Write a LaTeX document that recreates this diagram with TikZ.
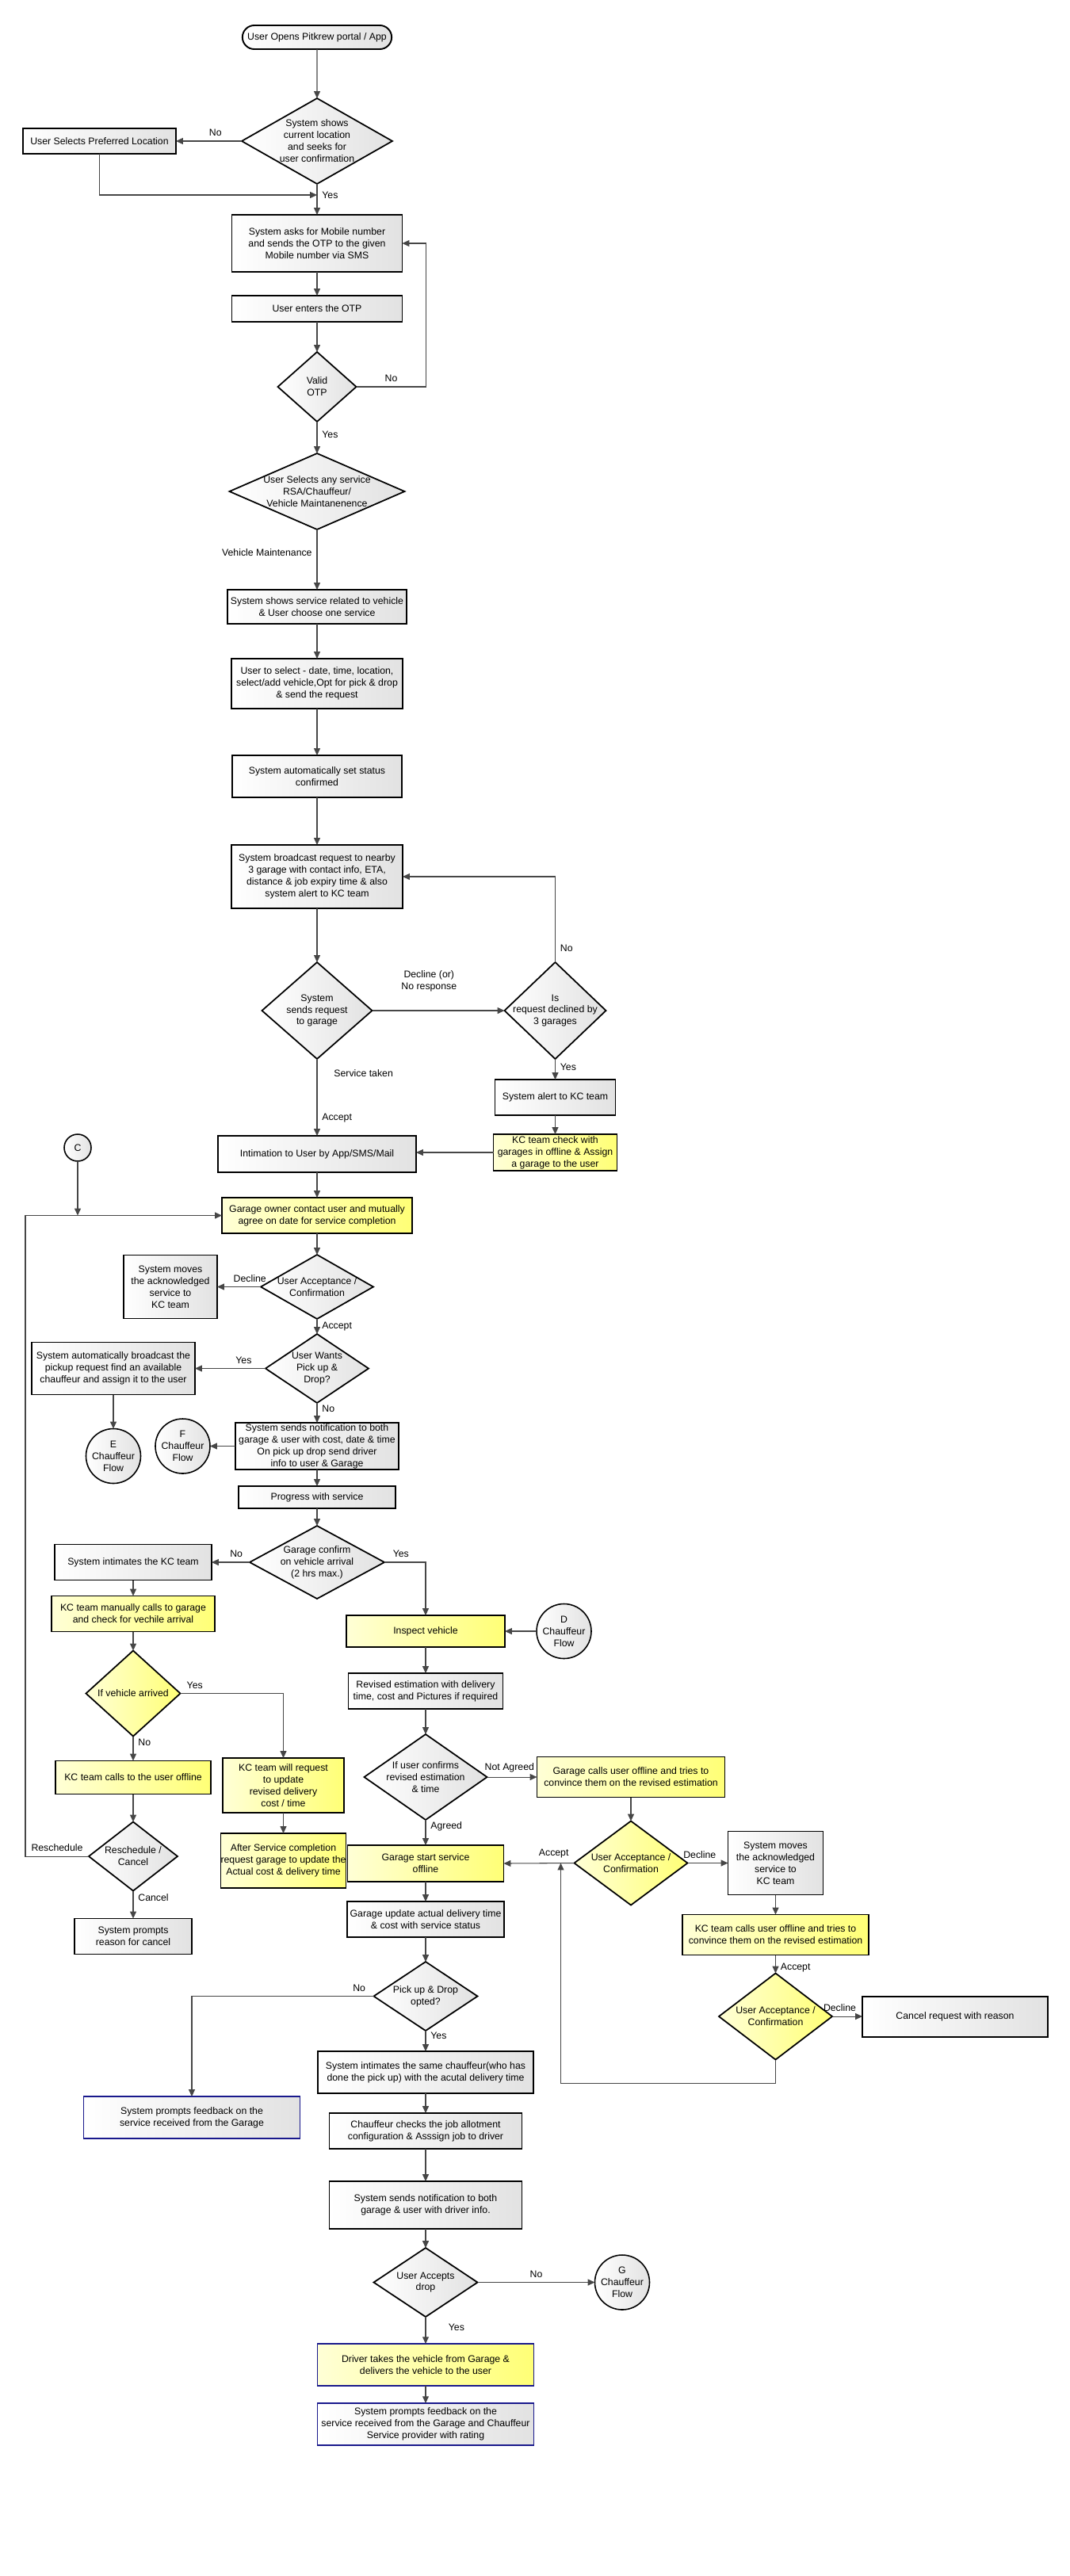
\documentclass[tikz,border=0pt]{standalone}
\usepackage{fontspec}
\setmainfont{Liberation Sans}
\usepackage{tikz}
\usetikzlibrary{shapes,arrows.meta,positioning}

\definecolor{boxgrey}{RGB}{226,226,226}
\definecolor{ylight}{RGB}{255,255,214}
\definecolor{ydark}{RGB}{255,255,118}
\definecolor{linegrey}{RGB}{70,70,70}
\definecolor{navy}{RGB}{25,25,140}

\begin{document}
\begin{tikzpicture}[
    every node/.style={font=\fontsize{7}{8.5}\selectfont},
    box/.style={rectangle, draw, line width=1.1pt, left color=white, right color=boxgrey, align=center, inner xsep=2pt, inner ysep=1pt, outer sep=0pt},
    ybox/.style={box, left color=ylight, right color=ydark},
    bluebox/.style={line width=0.9pt, draw=navy},
    terminal/.style={rounded rectangle, draw, line width=1.1pt, left color=white, right color=boxgrey, minimum width=4cm, minimum height=0.6cm, outer sep=0pt},
    decision/.style={diamond, draw, line width=1pt, left color=white, right color=boxgrey, inner sep=0pt, outer sep=0pt},
    ydecision/.style={decision, left color=ylight, right color=ydark},
    dtext/.style={align=center, inner sep=0pt},
    flow/.style={circle, draw, line width=0.9pt, left color=white, right color=boxgrey, align=center, inner sep=0pt, outer sep=0pt, minimum size=1.38cm},
    arrow/.style={-{Triangle[length=5pt,width=4.5pt]}, line width=0.6pt, draw=linegrey}]

    \useasboundingbox (0,0) rectangle (27,-65);

    \node[terminal] (start) at (8,-0.94) {User Opens Pitkrew portal / App};
    \node[decision, minimum width=3.8cm, minimum height=2.16cm, below=1.24cm of start, label={[dtext]center:{System shows\\current location\\and seeks for\\user confirmation}}] (locq) {};
    \node[box, minimum width=3.86cm, minimum height=0.64cm, left=1.66cm of locq] (prefloc) {User Selects Preferred Location};
    \coordinate[below=0.28cm of locq] (join);
    \node[box, minimum width=4.3cm, minimum height=1.44cm, below=0.78cm of locq] (otp) {System asks for Mobile number\\and sends the OTP to the given\\Mobile number via SMS};
    \node[box, minimum width=4.3cm, minimum height=0.66cm, below=0.6cm of otp] (enterotp) {User enters the OTP};
    \node[decision, minimum width=1.98cm, minimum height=1.76cm, below=0.76cm of enterotp, label={[dtext]center:{Valid\\OTP}}] (validotp) {};
    \node[decision, minimum width=4.42cm, minimum height=1.92cm, below=0.8cm of validotp, label={[dtext]center:{User Selects any service\\RSA/Chauffeur/\\Vehicle Maintanenence}}] (service) {};
    \node[box, minimum width=4.48cm, minimum height=0.86cm, below=1.52cm of service] (showsvc) {System shows service related to vehicle\\\& User choose one service};
    \node[box, minimum width=4.32cm, minimum height=1.26cm, below=0.88cm of showsvc] (select) {User to select - date, time, location,\\select/add vehicle,Opt for pick \& drop\\\& send the request};
    \node[box, minimum width=4.28cm, minimum height=1.06cm, below=1.18cm of select] (status) {System automatically set status\\confirmed};
    \node[box, minimum width=4.32cm, minimum height=1.6cm, below=1.2cm of status] (broadcast) {System broadcast request to nearby\\3 garage with contact info, ETA,\\distance \& job expiry time \& also\\system alert to KC team};
    \node[decision, minimum width=2.78cm, minimum height=2.44cm, below=1.36cm of broadcast, label={[dtext]center:{System\\sends request\\to garage}}] (sendreq) {};
    \node[decision, minimum width=2.56cm, minimum height=2.44cm, right=3.34cm of sendreq, label={[dtext]center:{Is\\request declined by\\3 garages}}] (declined) {};
    \node[box, minimum width=3.04cm, minimum height=0.9cm, below=0.52cm of declined] (alertkc) {System alert to KC team};
    \node[ybox, minimum width=3.12cm, minimum height=0.92cm, below=0.48cm of alertkc] (kccheck) {KC team check with\\garages in offline \& Assign\\a garage to the user};

    \node[box, minimum width=5cm, minimum height=0.92cm, below=1.94cm of sendreq] (intimate) {Intimation to User by App/SMS/Mail};
    \node[flow, minimum size=0.68cm, left=3.2cm of intimate, yshift=0.16cm] (cflow) {C};
    \node[ybox, minimum width=4.8cm, minimum height=0.9cm, below=0.64cm of intimate] (garagecontact) {Garage owner contact user and mutually\\agree on date for service completion};
    \node[decision, minimum width=2.84cm, minimum height=1.62cm, below=0.54cm of garagecontact, label={[dtext]center:{User Acceptance /\\Confirmation}}] (accept1) {};
    \node[box, minimum width=2.36cm, minimum height=1.6cm, left=1.1cm of accept1] (movekc1) {System moves\\the acknowledged\\service to\\KC team};
    \node[decision, minimum width=2.6cm, minimum height=1.74cm, below=0.38cm of accept1, label={[dtext]center:{User Wants\\Pick up \&\\Drop?}}] (pickdrop) {};
    \node[box, minimum width=4.12cm, minimum height=1.32cm, left=1.78cm of pickdrop] (autopick) {System automatically broadcast the\\pickup request find an available\\chauffeur and assign it to the user};
    \node[flow, below=0.86cm of autopick] (eflow) {E\\Chauffeur\\Flow};
    \node[box, minimum width=4.12cm, minimum height=1.18cm, inner ysep=0pt, below=0.5cm of pickdrop] (notifycost) {System sends notification to both\\garage \& user with cost, date \& time\\On pick up drop send driver\\info to user \& Garage};
    \node[flow, left=0.64cm of notifycost] (fflow) {F\\Chauffeur\\Flow};
    \node[box, minimum width=3.96cm, minimum height=0.56cm, below=0.42cm of notifycost] (progress) {Progress with service};
    \node[decision, minimum width=3.4cm, minimum height=1.84cm, below=0.44cm of progress, label={[dtext]center:{Garage confirm\\on vehicle arrival\\(2 hrs max.)}}] (arrival) {};

    \node[box, minimum width=3.96cm, minimum height=0.9cm, left=0.96cm of arrival] (intimatekc) {System intimates the KC team};
    \node[ybox, minimum width=4.12cm, minimum height=0.9cm, below=0.4cm of intimatekc] (kcmanual) {KC team manually calls to garage\\and check for vechile arrival};
    \node[ydecision, minimum width=2.38cm, minimum height=2.16cm, below=0.48cm of kcmanual, label={[dtext]center:If vehicle arrived}] (arrived) {};
    \node[ybox, minimum width=3.92cm, minimum height=0.84cm, below=0.62cm of arrived] (kccalluser) {KC team calls to the user offline};
    \node[decision, minimum width=2.24cm, minimum height=1.74cm, below=0.7cm of kccalluser, label={[dtext]center:{Reschedule /\\Cancel}}] (reschedule) {};
    \node[box, minimum width=2.96cm, minimum height=0.9cm, below=0.7cm of reschedule] (reason) {System prompts\\reason for cancel};
    \node[ybox, minimum width=3.06cm, minimum height=1.38cm, right=0.3cm of kccalluser, yshift=-0.2cm] (kcrequest) {KC team will request\\to update\\revised  delivery\\cost / time};
    \node[ybox, minimum width=3.06cm, minimum height=1.38cm, inner xsep=0pt, below=0.52cm of kcrequest] (aftersvc) {After Service completion\\request garage to update the\\Actual cost  \& delivery time};

    \node[ybox, minimum width=4cm, minimum height=0.8cm, below=0.42cm of arrival, xshift=2.74cm] (inspect) {Inspect vehicle};
    \node[flow, right=0.8cm of inspect] (dflow) {D\\Chauffeur\\Flow};
    \node[box, minimum width=3.9cm, minimum height=0.9cm, below=0.66cm of inspect] (revised) {Revised estimation with delivery\\time, cost and Pictures if required};
    \node[decision, minimum width=3.1cm, minimum height=2.16cm, below=0.64cm of revised, label={[dtext]center:{If user confirms\\revised estimation\\\& time}}] (confirm) {};
    \node[ybox, minimum width=4.74cm, minimum height=1.02cm, right=1.26cm of confirm] (garagecall) {Garage calls user offline and tries to\\convince them on the revised estimation};
    \node[ydecision, minimum width=2.86cm, minimum height=2.12cm, below=0.6cm of garagecall, label={[dtext]center:{User Acceptance /\\Confirmation}}] (accept2) {};
    \node[box, minimum width=2.4cm, minimum height=1.6cm, right=1.02cm of accept2] (movekc2) {System moves\\the acknowledged\\service to\\KC team};
    \node[ybox, minimum width=4.7cm, minimum height=1.02cm, below=0.5cm of movekc2] (kccall2) {KC team calls user offline and tries to\\convince them on the revised estimation};
    \node[ydecision, minimum width=2.86cm, minimum height=2.18cm, below=0.46cm of kccall2, label={[dtext]center:{User Acceptance /\\Confirmation}}] (accept3) {};
    \node[box, minimum width=4.68cm, minimum height=1.02cm, right=0.76cm of accept3] (cancel) {Cancel request with reason};
    \coordinate[left=0.34cm of accept2] (backin);

    \node[ybox, minimum width=3.94cm, minimum height=0.92cm, below=0.64cm of confirm] (startsvc) {Garage start service\\offline};
    \node[box, minimum width=3.94cm, minimum height=0.9cm, below=0.5cm of startsvc] (updatesvc) {Garage update actual delivery time\\\& cost with service status};
    \node[decision, minimum width=2.62cm, minimum height=1.74cm, below=0.62cm of updatesvc, label={[dtext]center:{Pick up \& Drop\\opted?}}] (pickopted) {};
    \node[box, minimum width=5.44cm, minimum height=1.06cm, below=0.52cm of pickopted] (samedriver) {System intimates the same chauffeur(who has\\done the pick up) with the acutal delivery time};
    \node[box, minimum width=4.86cm, minimum height=0.9cm, below=0.5cm of samedriver] (allot) {Chauffeur checks the job allotment\\configuration \& Asssign job to driver};
    \node[box, bluebox, minimum width=5.46cm, minimum height=1.06cm, left=0.74cm of allot, yshift=0.34cm] (feedback1) {System prompts feedback on the\\service received from the Garage};
    \node[box, minimum width=4.86cm, minimum height=1.2cm, below=0.82cm of allot] (notifydriver) {System sends notification to both\\garage \& user with  driver  info.};
    \node[decision, minimum width=2.62cm, minimum height=1.74cm, below=0.48cm of notifydriver, label={[dtext]center:{User Accepts\\drop}}] (acceptdrop) {};
    \node[flow, right=2.96cm of acceptdrop] (gflow) {G\\Chauffeur\\Flow};
    \node[ybox, bluebox, minimum width=5.46cm, minimum height=1.06cm, below=0.68cm of acceptdrop] (deliver) {Driver takes the vehicle from Garage \&\\delivers the vehicle to the user};
    \node[box, bluebox, minimum width=5.46cm, minimum height=1.06cm, below=0.44cm of deliver] (feedback2) {System prompts feedback on the\\service received from the Garage and Chauffeur\\Service provider with rating};

    \draw[arrow] (start) -- (locq);
    \draw[arrow] (locq.west) -- node[pos=0.4, above] {No} (prefloc.east);
    \draw[arrow] (prefloc.south) |- (join);
    \draw[arrow] (locq.south) -- node[pos=0.38, right] {Yes} (otp);
    \draw[arrow] (otp) -- (enterotp);
    \draw[arrow] (enterotp) -- (validotp);
    \draw[arrow] (validotp.east) -- node[above] {No} ++(1.76cm,0) |- (otp.east);
    \draw[arrow] (validotp) -- node[pos=0.4, right] {Yes} (service);
    \draw[arrow] (service) -- node[pos=0.38, left] {Vehicle Maintenance} (showsvc);
    \draw[arrow] (showsvc) -- (select);
    \draw[arrow] (select) -- (status);
    \draw[arrow] (status) -- (broadcast);
    \draw[arrow] (broadcast) -- (sendreq);
    \draw[arrow] (sendreq.east) -- node[pos=0.43, above=0.35cm, align=center] {Decline (or)\\No response} (declined.west);
    \draw[arrow] (declined.north) |- node[pos=0.08, right] {No} (broadcast.east);
    \draw[arrow] (declined) -- node[pos=0.4, right] {Yes} (alertkc);
    \draw[arrow] (alertkc) -- (kccheck);
    \draw[arrow] (kccheck.west) -- (kccheck.west -| intimate.east);
    \draw[arrow] (sendreq) -- node[pos=0.19, right=0.3cm] {Service taken} node[pos=0.77, right] {Accept} (intimate);

    \draw[arrow] (intimate) -- (garagecontact);
    \draw[arrow] (cflow.south) -- (cflow.south |- garagecontact.west);
    \draw[arrow] (reschedule.west) -- node[above] {Reschedule} ++(-1.6cm,0) |- (garagecontact.west);
    \draw[arrow] (garagecontact) -- (accept1);
    \draw[arrow] (accept1.west) -- node[pos=0.25, above] {Decline} (movekc1.east);
    \draw[arrow] (accept1) -- node[pos=0.5, right] {Accept} (pickdrop);
    \draw[arrow] (pickdrop.west) -- node[pos=0.31, above] {Yes} (autopick.east);
    \draw[arrow] (autopick) -- (eflow);
    \draw[arrow] (pickdrop) -- node[pos=0.3, right] {No} (notifycost);
    \draw[arrow] (notifycost.west) -- (fflow.east);
    \draw[arrow] (notifycost) -- (progress);
    \draw[arrow] (progress) -- (arrival);
    \draw[arrow] (arrival.west) -- node[pos=0.35, above] {No} (intimatekc.east);
    \draw[arrow] (arrival.east) -| node[pos=0.2, above] {Yes} (inspect.north);

    \draw[arrow] (intimatekc) -- (kcmanual);
    \draw[arrow] (kcmanual) -- (arrived);
    \draw[arrow] (arrived.east) -| node[pos=0.07, above] {Yes} (kcrequest.north);
    \draw[arrow] (arrived) -- node[pos=0.25, right] {No} (kccalluser);
    \draw[arrow] (kccalluser) -- (reschedule);
    \draw[arrow] (reschedule) -- node[pos=0.25, right] {Cancel} (reason);
    \draw[arrow] (kcrequest) -- (aftersvc);

    \draw[arrow] (dflow.west) -- (inspect.east);
    \draw[arrow] (inspect) -- (revised);
    \draw[arrow] (revised) -- (confirm);
    \draw[arrow] (confirm.east) -- node[pos=0.45, above] {Not Agreed} (garagecall.west);
    \draw[arrow] (confirm) -- node[pos=0.25, right] {Agreed} (startsvc);
    \draw[arrow] (garagecall) -- (accept2);
    \draw[arrow] (accept2.west) -- node[pos=0.29, above] {Accept} (startsvc.east);
    \draw[arrow] (accept2.east) -- node[pos=0.3, above] {Decline} (movekc2.west);
    \draw[arrow] (movekc2) -- (kccall2);
    \draw[arrow] (kccall2) -- node[pos=0.7, right] {Accept} (accept3);
    \draw[arrow] (accept3.east) -- node[pos=0.25, above] {Decline} (cancel.west);
    \draw[arrow] (accept3.south) -- ++(0,-0.6cm) -| (backin);

    \draw[arrow] (startsvc) -- (updatesvc);
    \draw[arrow] (updatesvc) -- (pickopted);
    \draw[arrow] (pickopted.west) -| node[pos=0.04, above] {No} (feedback1.north);
    \draw[arrow] (pickopted) -- node[pos=0.25, right] {Yes} (samedriver);
    \draw[arrow] (samedriver) -- (allot);
    \draw[arrow] (allot) -- (notifydriver);
    \draw[arrow] (notifydriver) -- (acceptdrop);
    \draw[arrow] (acceptdrop.east) -- node[above] {No} (gflow.west);
    \draw[arrow] (acceptdrop) -- node[pos=0.4, right=0.45cm] {Yes} (deliver);
    \draw[arrow] (deliver) -- (feedback2);

\end{tikzpicture}
\end{document}
